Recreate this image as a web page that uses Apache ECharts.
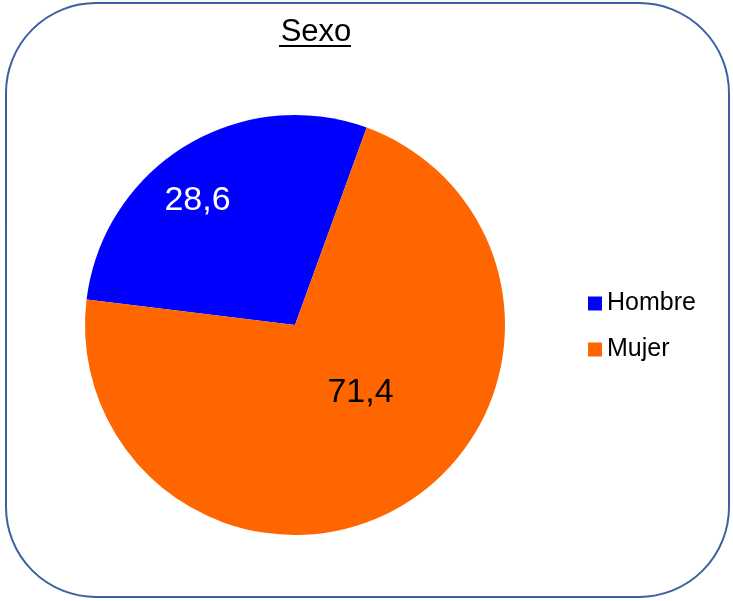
<!DOCTYPE html>
<html>
<head>
<meta charset="utf-8">
<script src="https://cdn.jsdelivr.net/npm/echarts@6/dist/echarts.min.js"></script>
<style>
  html, body { margin: 0; padding: 0; background: #fff; }
  #chart { width: 733px; height: 601px; }
</style>
</head>
<body>
<div id="chart"></div>
<script>
const categories = ['Hombre', 'Mujer'];
const values = [28.6, 71.4];
const colors = ['#0000FF', '#FF6600'];
const labelColors = ['#FFFFFF', '#000000'];
const labelOffsets = [[-41, -32], [9, -24]];

const chart = echarts.init(document.getElementById('chart'));

const data = categories.map((name, i) => ({
  name: name,
  value: values[i],
  itemStyle: { color: colors[i] },
  label: { color: labelColors[i], offset: labelOffsets[i] }
}));

chart.setOption({
  animation: false,
  textStyle: { fontFamily: 'Liberation Sans, Arial, sans-serif' },
  title: {
    text: 'Sexo',
    left: 311,
    top: 12,
    textAlign: 'center',
    textStyle: { fontSize: 31, fontWeight: 'normal', color: '#000' }
  },
  legend: {
    orient: 'vertical',
    left: 583,
    top: 286,
    itemWidth: 14,
    itemHeight: 14,
    itemGap: 21,
    icon: 'rect',
    textStyle: { fontSize: 25, color: '#000' },
    data: categories
  },
  graphic: [
    {
      type: 'rect',
      shape: { x: 6, y: 3, width: 723, height: 594, r: 90 },
      style: { fill: 'none', stroke: '#3A62A0', lineWidth: 2 },
      z: -1
    },
    {
      type: 'line',
      shape: { x1: 279, y1: 46, x2: 351, y2: 46 },
      style: { stroke: '#000', lineWidth: 2 }
    }
  ],
  series: [
    {
      type: 'pie',
      center: [295, 325],
      radius: [0, 210],
      startAngle: 173,
      clockwise: true,
      label: {
        show: true,
        position: 'inside',
        fontSize: 34,
        formatter: p => String(p.value).replace('.', ',')
      },
      labelLine: { show: false },
      emphasis: { disabled: true },
      data: data
    }
  ]
});
</script>
</body>
</html>
